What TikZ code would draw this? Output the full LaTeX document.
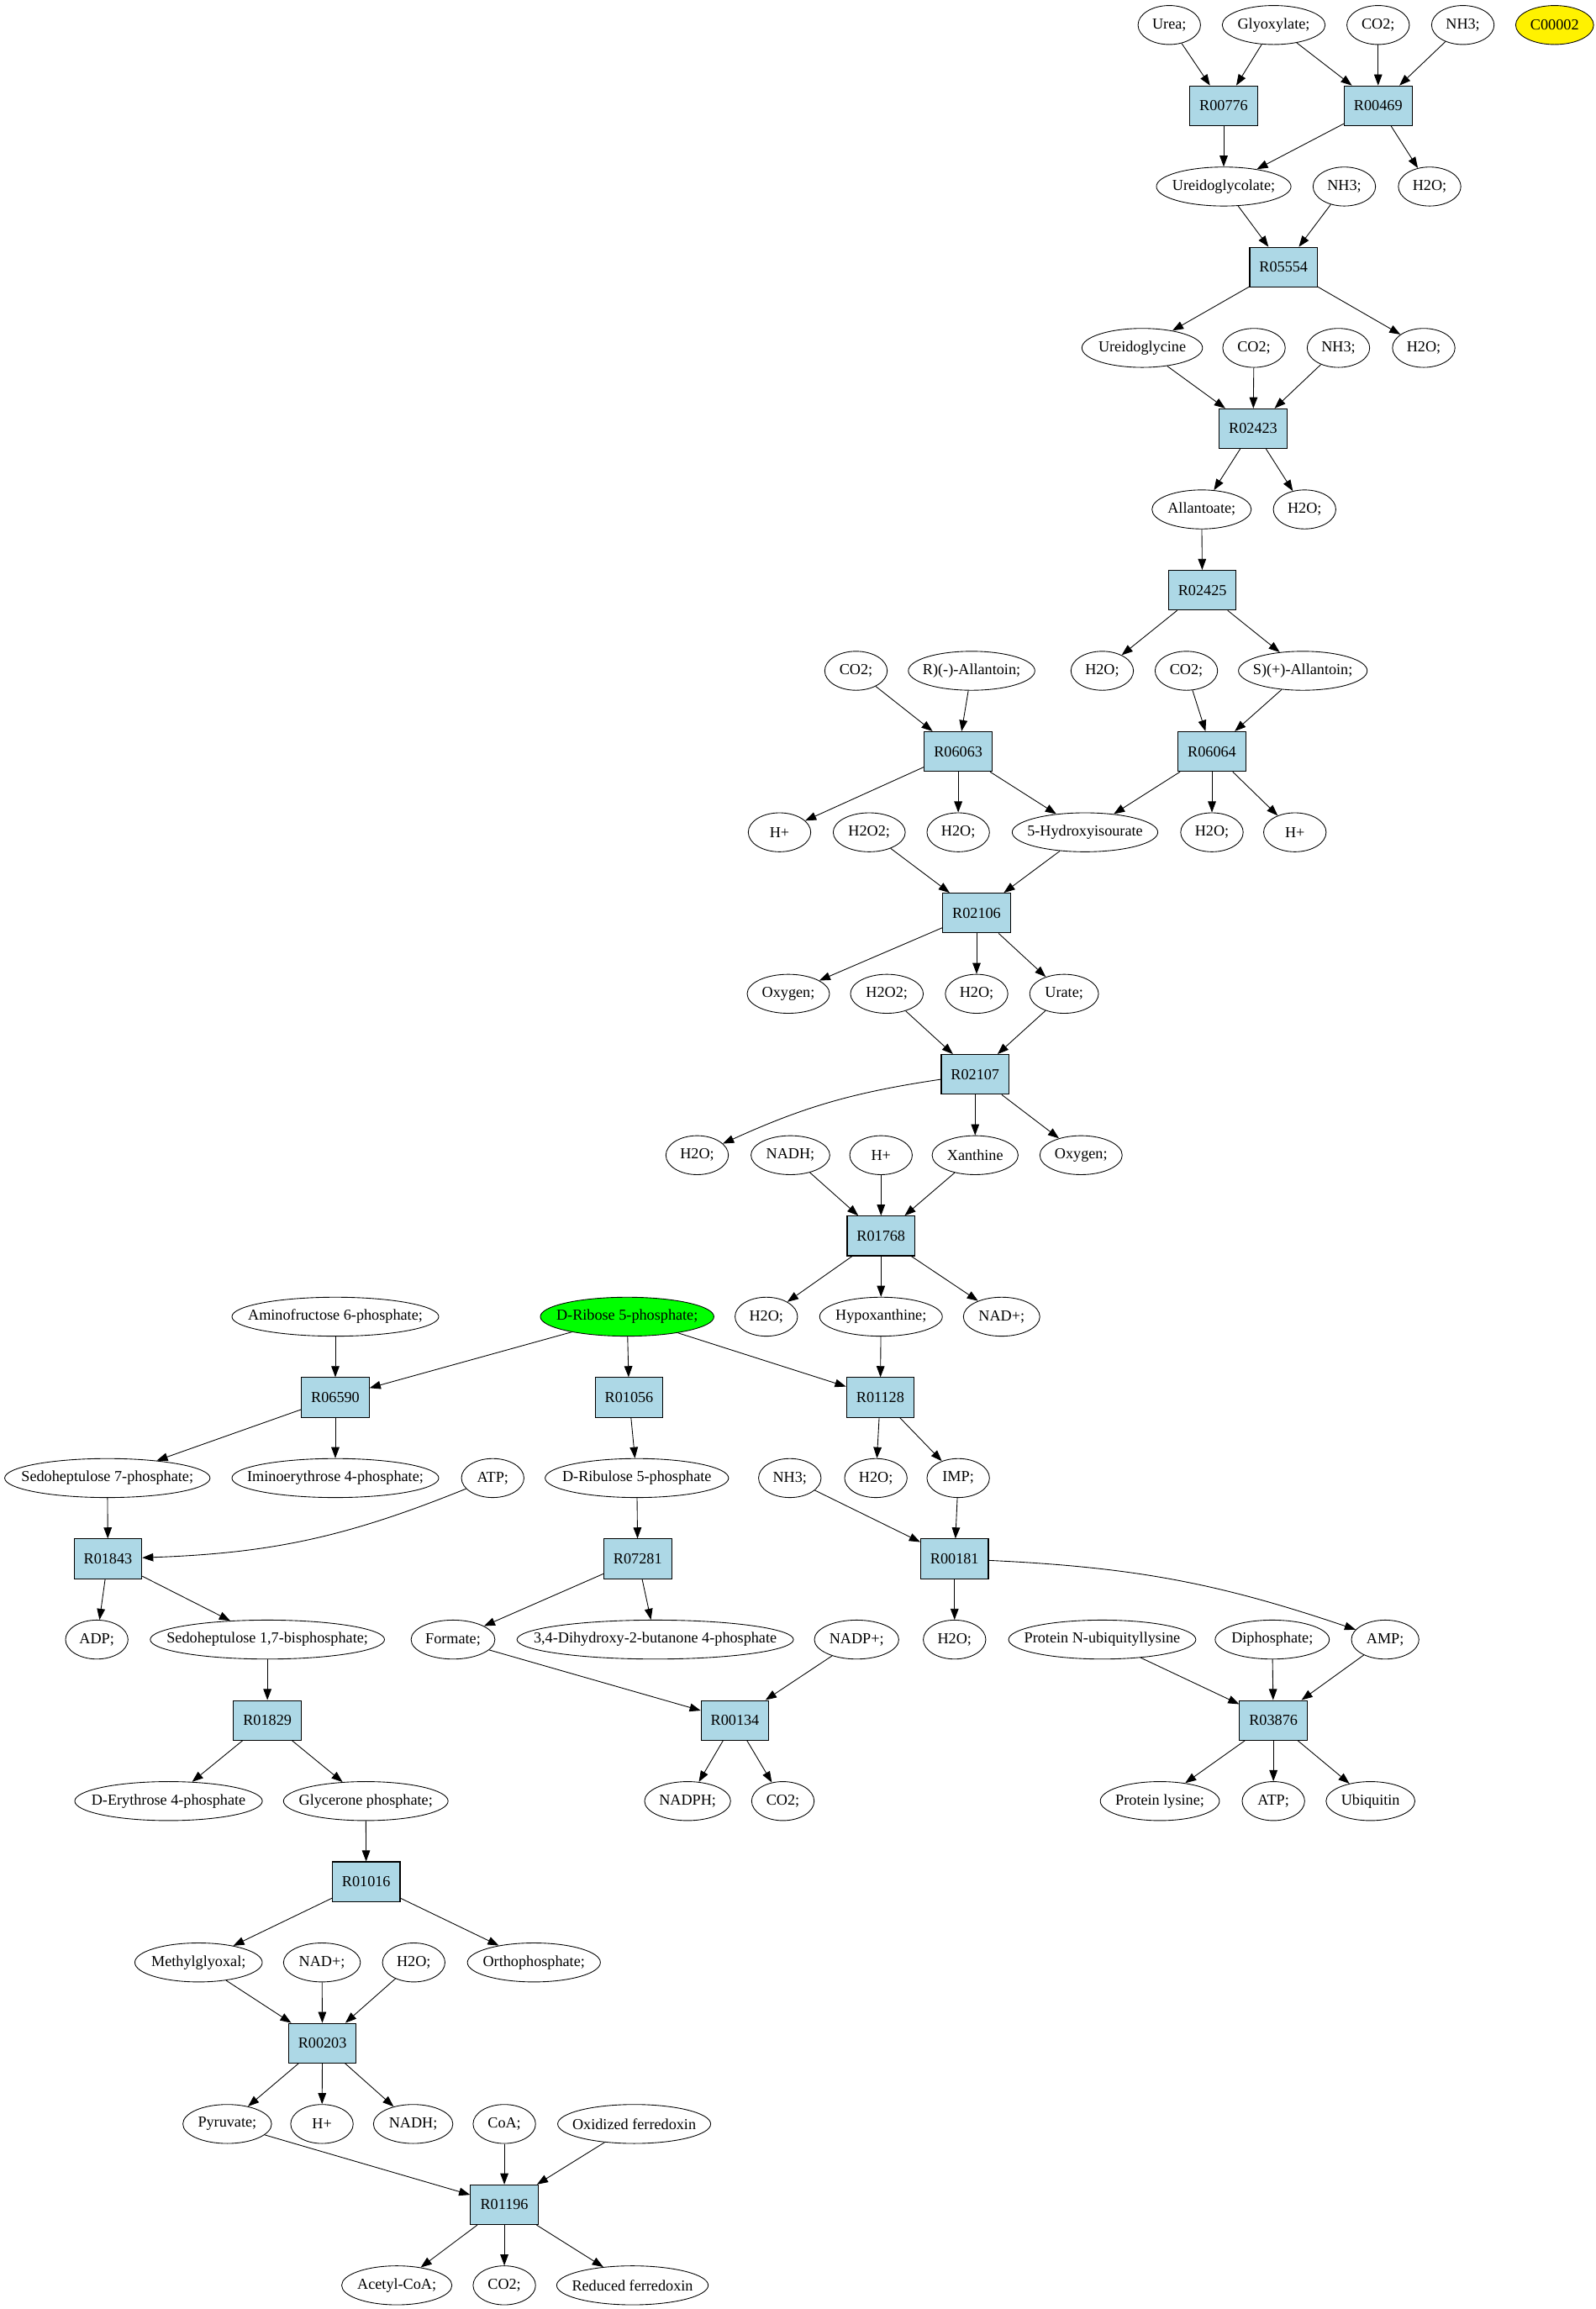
\documentclass[tikz,border=0pt]{standalone}
\usepackage{fontspec}
\setmainfont{Liberation Serif}
\usepackage{tikz}
\usetikzlibrary{shapes.geometric,arrows.meta}
\usepackage{xcolor}
\definecolor{rxnblue}{RGB}{173,216,230}

\begin{document}
\begin{tikzpicture}[x=1pt, y=1pt,
  every node/.style={font=\fontsize{10.4}{12}\selectfont},
  rxn/.style={rectangle, draw, fill=rxnblue, minimum width=46pt, minimum height=27pt, inner sep=0pt, line width=0.6pt},
  mol/.style={ellipse, draw, inner xsep=-40pt, inner ysep=0pt, minimum height=26.5pt, minimum width=#1, line width=0.5pt},
  mol/.default=42.5,
  flow/.style={-{Triangle[length=7.5pt,width=5.5pt]}, line width=0.5pt}]
  \useasboundingbox (0,0) rectangle (1085.1,-1569.7);
  % urea / glyoxylate
  \node[mol] (mUrea) at (795,-17) {Urea;};
  \node[mol=70] (mGlyoxylate) at (866,-17) {Glyoxylate;};
  \node[mol] (mCO2a) at (937,-17) {CO2;};
  \node[mol] (mNH3a) at (994.6,-17) {NH3;};
  \node[mol=53, fill=yellow] (mC00002) at (1057,-17) {C00002};
  \node[rxn] (r00776) at (832,-71.9) {R00776};
  \node[rxn] (r00469) at (937,-71.9) {R00469};
  \node[mol=91.5] (mUreidoglycolate) at (832,-126.8) {Ureidoglycolate;};
  \node[mol] (mNH3b) at (914,-126.8) {NH3;};
  \node[mol] (mH2Oa) at (972,-126.8) {H2O;};
  \node[rxn] (r05554) at (872.7,-181.6) {R05554};
  \node[mol=82] (mUreidoglycine) at (776.6,-236.5) {Ureidoglycine};
  \node[mol] (mCO2b) at (852.6,-236.5) {CO2;};
  \node[mol] (mNH3c) at (910,-236.5) {NH3;};
  \node[mol] (mH2Ob) at (968,-236.5) {H2O;};
  \node[rxn] (r02423) at (852,-291.4) {R02423};
  \node[mol=67.5] (mAllantoate) at (817,-346.3) {Allantoate;};
  \node[mol] (mH2Oc) at (887,-346.3) {H2O;};
  \node[rxn] (r02425) at (817.5,-401.2) {R02425};
  % allantoin
  \node[mol] (mCO2c) at (582,-456) {CO2;};
  \node[mol=86] (mRAllantoin) at (660.6,-456) {R)(-)-Allantoin;};
  \node[mol] (mH2Od) at (749.4,-456) {H2O;};
  \node[mol] (mCO2d) at (806.6,-456) {CO2;};
  \node[mol=87.5] (mSAllantoin) at (885.8,-456) {S)(+)-Allantoin;};
  \node[rxn] (r06063) at (651.5,-510.9) {R06063};
  \node[rxn] (r06064) at (824,-510.9) {R06064};
  \node[mol] (mHa) at (530,-565.8) {H+};
  \node[mol=49] (mH2O2a) at (591,-565.8) {H2O2;};
  \node[mol] (mH2Oe) at (651.5,-565.8) {H2O;};
  \node[mol=99] (mHydroxyisourate) at (737.7,-565.8) {5-Hydroxyisourate};
  \node[mol] (mH2Of) at (824,-565.8) {H2O;};
  \node[mol] (mHb) at (880.4,-565.8) {H+};
  \node[rxn] (r02106) at (664,-620.7) {R02106};
  \node[mol=56] (mOxygenA) at (536,-675.6) {Oxygen;};
  \node[mol=49.5] (mH2O2b) at (603,-675.6) {H2O2;};
  \node[mol] (mH2Og) at (664,-675.6) {H2O;};
  \node[mol=46.8] (mUrate) at (723.5,-675.6) {Urate;};
  \node[rxn] (r02107) at (663,-730.4) {R02107};
  \node[mol] (mH2Oh) at (474,-785.3) {H2O;};
  \node[mol=53.6] (mNADHa) at (537.4,-785.3) {NADH;};
  \node[mol] (mHc) at (599,-785.3) {H+};
  \node[mol=58.5] (mXanthine) at (663,-785.3) {Xanthine};
  \node[mol=56] (mOxygenB) at (735,-785.3) {Oxygen;};
  \node[rxn] (r01768) at (599,-840.2) {R01768};
  \node[mol] (mH2Oi) at (521,-895.1) {H2O;};
  \node[mol=83.4] (mHypoxanthine) at (599,-895.1) {Hypoxanthine;};
  \node[mol=52] (mNADa) at (681,-895.1) {NAD+;};
  % ribose branch
  \node[mol=140.6] (mAminofructose) at (228,-895.1) {Aminofructose 6-phosphate;};
  \node[mol=118, fill=green] (mRibose) at (426.4,-895.1) {D-Ribose 5-phosphate;};
  \node[rxn] (r06590) at (228,-950) {R06590};
  \node[rxn] (r01056) at (427.7,-950) {R01056};
  \node[rxn] (r01128) at (598.5,-950) {R01128};
  \node[mol=139.6] (mSedoSeven) at (73,-1004.8) {Sedoheptulose 7-phosphate;};
  \node[mol=140.6] (mIminoerythrose) at (228,-1004.8) {Iminoerythrose 4-phosphate;};
  \node[mol] (mATPa) at (335,-1004.8) {ATP;};
  \node[mol=124.7] (mRibulose) at (433,-1004.8) {D-Ribulose 5-phosphate};
  \node[mol] (mNH3d) at (537,-1004.8) {NH3;};
  \node[mol] (mH2Oj) at (595.5,-1004.8) {H2O;};
  \node[mol] (mIMP) at (651.5,-1004.8) {IMP;};
  \node[rxn] (r01843) at (73.4,-1059.7) {R01843};
  \node[rxn] (r07281) at (433.6,-1059.7) {R07281};
  \node[rxn] (r00181) at (649,-1059.7) {R00181};
  \node[mol] (mADP) at (65.8,-1114.6) {ADP;};
  \node[mol=159.3] (mSedoBis) at (181.8,-1114.6) {Sedoheptulose 1,7-bisphosphate;};
  \node[mol=57] (mFormate) at (308,-1114.6) {Formate;};
  \node[mol=188] (mDihydroxy) at (445.5,-1114.6) {3,4-Dihydroxy-2-butanone 4-phosphate};
  \node[mol=57.4] (mNADPa) at (582.4,-1114.6) {NADP+;};
  \node[mol] (mH2Ok) at (649,-1114.6) {H2O;};
  \node[mol=127.3] (mProteinUb) at (749.4,-1114.6) {Protein N-ubiquityllysine};
  \node[mol=77.6] (mDiphosphate) at (865,-1114.6) {Diphosphate;};
  \node[mol=45.9] (mAMP) at (941.8,-1114.6) {AMP;};
  \node[rxn] (r01829) at (181.8,-1169.5) {R01829};
  \node[rxn] (r00134) at (499.7,-1169.5) {R00134};
  \node[rxn] (r03876) at (865.8,-1169.5) {R03876};
  \node[mol=127.5] (mErythrose) at (114.6,-1224.4) {D-Erythrose 4-phosphate};
  \node[mol=111.9] (mGlycerone) at (248.7,-1224.4) {Glycerone phosphate;};
  \node[mol=58.5] (mNADPH) at (467.5,-1224.4) {NADPH;};
  \node[mol] (mCO2e) at (532.3,-1224.4) {CO2;};
  \node[mol=81] (mProteinLys) at (788.6,-1224.4) {Protein lysine;};
  \node[mol] (mATPb) at (865.8,-1224.4) {ATP;};
  \node[mol=60.4] (mUbiquitin) at (931.8,-1224.4) {Ubiquitin};
  \node[rxn] (r01016) at (249,-1279.2) {R01016};
  \node[mol=86.6] (mMethylglyoxal) at (135,-1334.1) {Methylglyoxal;};
  \node[mol=52.3] (mNADb) at (218.9,-1334.1) {NAD+;};
  \node[mol] (mH2Ol) at (281.3,-1334.1) {H2O;};
  \node[mol=90.4] (mOrthophosphate) at (363,-1334.1) {Orthophosphate;};
  \node[rxn] (r00203) at (219.2,-1389) {R00203};
  \node[mol=60.3] (mPyruvate) at (154.5,-1443.9) {Pyruvate;};
  \node[mol] (mHd) at (218.9,-1443.9) {H+};
  \node[mol=54] (mNADHb) at (280.9,-1443.9) {NADH;};
  \node[mol] (mCoA) at (342.9,-1443.9) {CoA;};
  \node[mol=104] (mOxFerredoxin) at (431.2,-1443.9) {Oxidized ferredoxin};
  \node[rxn] (r01196) at (342.9,-1498.8) {R01196};
  \node[mol=75] (mAcetylCoA) at (269.8,-1553.6) {Acetyl-CoA;};
  \node[mol] (mCO2f) at (342.9,-1553.6) {CO2;};
  \node[mol=103] (mRedFerredoxin) at (430,-1553.6) {Reduced ferredoxin};
  % edges
  \draw[flow] (mUrea) -- (r00776);
  \draw[flow] (mGlyoxylate) -- (r00776);
  \draw[flow] (r00776) -- (mUreidoglycolate);
  \draw[flow] (mGlyoxylate) -- (r00469);
  \draw[flow] (mCO2a) -- (r00469);
  \draw[flow] (mNH3a) -- (r00469);
  \draw[flow] (r00469) -- (mUreidoglycolate);
  \draw[flow] (r00469) -- (mH2Oa);
  \draw[flow] (mUreidoglycolate) -- (r05554);
  \draw[flow] (mNH3b) -- (r05554);
  \draw[flow] (r05554) -- (mUreidoglycine);
  \draw[flow] (r05554) -- (mH2Ob);
  \draw[flow] (mUreidoglycine) -- (r02423);
  \draw[flow] (mCO2b) -- (r02423);
  \draw[flow] (mNH3c) -- (r02423);
  \draw[flow] (r02423) -- (mAllantoate);
  \draw[flow] (r02423) -- (mH2Oc);
  \draw[flow] (mAllantoate) -- (r02425);
  \draw[flow] (r02425) -- (mH2Od);
  \draw[flow] (r02425) -- (mSAllantoin);
  \draw[flow] (mCO2c) -- (r06063);
  \draw[flow] (mRAllantoin) -- (r06063);
  \draw[flow] (r06063) -- (mHa);
  \draw[flow] (r06063) -- (mH2Oe);
  \draw[flow] (r06063) -- (mHydroxyisourate);
  \draw[flow] (mCO2d) -- (r06064);
  \draw[flow] (mSAllantoin) -- (r06064);
  \draw[flow] (r06064) -- (mHydroxyisourate);
  \draw[flow] (r06064) -- (mH2Of);
  \draw[flow] (r06064) -- (mHb);
  \draw[flow] (mH2O2a) -- (r02106);
  \draw[flow] (mHydroxyisourate) -- (r02106);
  \draw[flow] (r02106) -- (mOxygenA);
  \draw[flow] (r02106) -- (mH2Og);
  \draw[flow] (r02106) -- (mUrate);
  \draw[flow] (mH2O2b) -- (r02107);
  \draw[flow] (mUrate) -- (r02107);
  \draw[flow] (r02107) to[bend right=8] (mH2Oh);
  \draw[flow] (r02107) -- (mXanthine);
  \draw[flow] (r02107) -- (mOxygenB);
  \draw[flow] (mNADHa) -- (r01768);
  \draw[flow] (mHc) -- (r01768);
  \draw[flow] (mXanthine) -- (r01768);
  \draw[flow] (r01768) -- (mH2Oi);
  \draw[flow] (r01768) -- (mHypoxanthine);
  \draw[flow] (r01768) -- (mNADa);
  \draw[flow] (mRibose) -- (r01128);
  \draw[flow] (mHypoxanthine) -- (r01128);
  \draw[flow] (r01128) -- (mH2Oj);
  \draw[flow] (r01128) -- (mIMP);
  \draw[flow] (mNH3d) -- (r00181);
  \draw[flow] (mIMP) -- (r00181);
  \draw[flow] (r00181) -- (mH2Ok);
  \draw[flow] (r00181) to[bend left=8] (mAMP);
  \draw[flow] (mProteinUb) -- (r03876);
  \draw[flow] (mDiphosphate) -- (r03876);
  \draw[flow] (mAMP) -- (r03876);
  \draw[flow] (r03876) -- (mProteinLys);
  \draw[flow] (r03876) -- (mATPb);
  \draw[flow] (r03876) -- (mUbiquitin);
  \draw[flow] (mAminofructose) -- (r06590);
  \draw[flow] (mRibose) -- (r06590);
  \draw[flow] (r06590) -- (mSedoSeven);
  \draw[flow] (r06590) -- (mIminoerythrose);
  \draw[flow] (mRibose) -- (r01056);
  \draw[flow] (r01056) -- (mRibulose);
  \draw[flow] (mRibulose) -- (r07281);
  \draw[flow] (r07281) -- (mFormate);
  \draw[flow] (r07281) -- (mDihydroxy);
  \draw[flow] (mFormate) -- (r00134);
  \draw[flow] (mNADPa) -- (r00134);
  \draw[flow] (r00134) -- (mNADPH);
  \draw[flow] (r00134) -- (mCO2e);
  \draw[flow] (mSedoSeven) -- (r01843);
  \draw[flow] (mATPa) to[bend left=10] (r01843);
  \draw[flow] (r01843) -- (mADP);
  \draw[flow] (r01843) -- (mSedoBis);
  \draw[flow] (mSedoBis) -- (r01829);
  \draw[flow] (r01829) -- (mErythrose);
  \draw[flow] (r01829) -- (mGlycerone);
  \draw[flow] (mGlycerone) -- (r01016);
  \draw[flow] (r01016) -- (mMethylglyoxal);
  \draw[flow] (r01016) -- (mOrthophosphate);
  \draw[flow] (mMethylglyoxal) -- (r00203);
  \draw[flow] (mNADb) -- (r00203);
  \draw[flow] (mH2Ol) -- (r00203);
  \draw[flow] (r00203) -- (mPyruvate);
  \draw[flow] (r00203) -- (mHd);
  \draw[flow] (r00203) -- (mNADHb);
  \draw[flow] (mPyruvate) -- (r01196);
  \draw[flow] (mCoA) -- (r01196);
  \draw[flow] (mOxFerredoxin) -- (r01196);
  \draw[flow] (r01196) -- (mAcetylCoA);
  \draw[flow] (r01196) -- (mCO2f);
  \draw[flow] (r01196) -- (mRedFerredoxin);
\end{tikzpicture}
\end{document}
